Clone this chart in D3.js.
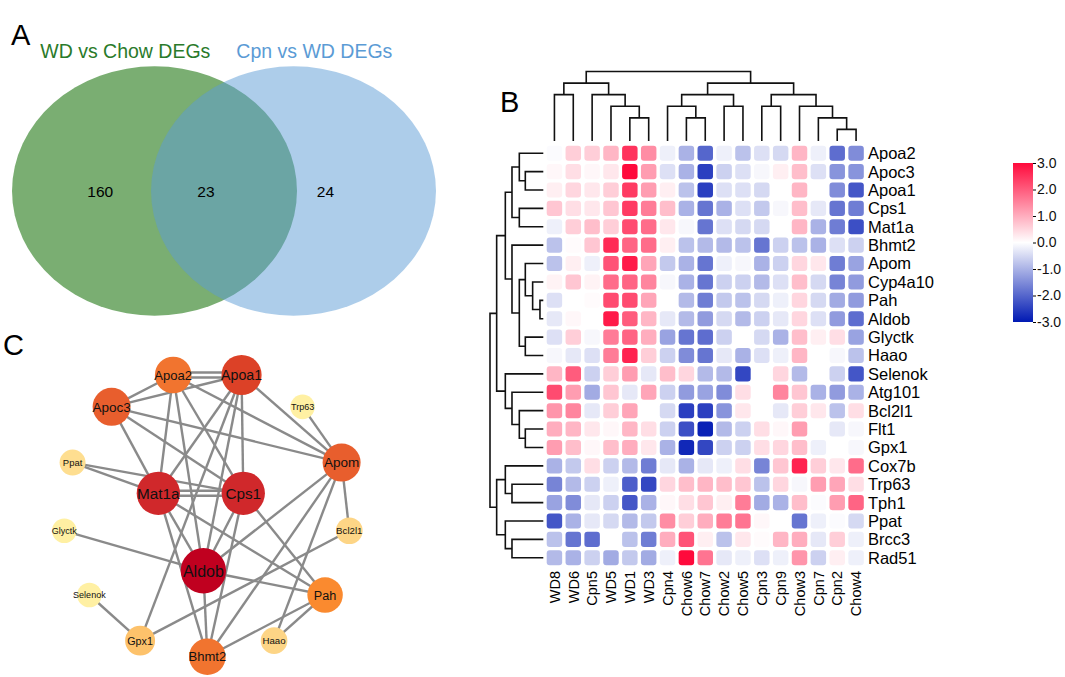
<!DOCTYPE html>
<html>
<head>
<meta charset="utf-8">
<script src="https://cdn.jsdelivr.net/npm/d3@7"></script>
<style>
  body { margin: 0; background: #fff; }
  text { font-family: "Liberation Sans", Arial, sans-serif; }
</style>
</head>
<body>
<svg id="fig" width="1065" height="677"></svg>
<script>
// ---------- data ----------
const vennSets = ["WD vs Chow DEGs", "Cpn vs WD DEGs"];
const vennCounts = [160, 23, 24];          // WD only, shared, Cpn only
const vennCountPos = [-0.39, 0.37, 1.23];  // layout units (circle centres at 0 and 1)

const cols = ["WD8","WD6","Cpn5","WD5","WD1","WD3","Cpn4","Chow6","Chow7","Chow2","Chow5","Cpn3","Cpn9","Chow3","Cpn7","Cpn2","Chow4"];
const rows = ["Apoa2","Apoc3","Apoa1","Cps1","Mat1a","Bhmt2","Apom","Cyp4a10","Pah","Aldob","Glyctk","Haao",
              "Selenok","Atg101","Bcl2l1","Flt1","Gpx1","Cox7b","Trp63","Tph1","Ppat","Brcc3","Rad51"];
const zvals = [
  [-0.05,0.6,0.6,0.9,2.5,1.4,-0.2,-1.0,-2.0,-0.2,-0.8,-0.4,-0.5,0.9,-0.2,-1.9,-1.5],
  [0.1,0.4,0.1,0.3,3.0,1.2,-0.4,-1.0,-2.5,-0.6,-0.4,-0.1,0.2,0.8,-0.4,-1.4,-1.4],
  [0.2,0.5,0.3,0.6,2.4,1.2,0.2,-0.8,-2.5,-0.4,-0.4,-0.5,0.0,0.9,0.0,-1.5,-2.2],
  [0.7,0.4,0.3,0.7,2.4,1.6,0.8,-1.0,-1.8,-1.0,-0.4,-0.7,-0.1,0.8,-0.3,-1.8,-1.7],
  [-0.2,0.6,0.8,0.6,2.2,1.8,0.3,-0.1,-1.8,-0.4,-0.5,-0.5,0.0,0.9,-1.0,-1.7,-2.3],
  [-0.8,0.05,0.7,2.6,1.9,1.8,0.2,-0.8,-0.9,-0.9,-0.8,-1.8,-0.6,-0.8,-1.0,-0.4,-0.6],
  [-0.8,0.2,-0.2,2.1,2.8,1.1,-0.7,-1.0,-1.8,-0.2,-0.1,-1.0,-0.6,0.5,0.3,-1.7,-1.2],
  [0.15,0.7,0.15,1.8,1.9,1.5,-0.1,-1.0,-1.8,-0.6,-0.6,-0.9,-0.4,0.8,-0.5,-1.6,-1.3],
  [-0.4,0.0,0.05,2.2,2.2,1.1,0.0,-0.9,-1.7,-0.7,-0.8,-0.5,-0.2,0.5,-0.5,-1.1,-1.3],
  [-0.3,0.1,0.0,2.8,2.0,0.9,-0.3,-0.9,-1.3,-0.5,-0.9,-0.6,-0.3,0.5,-0.4,-1.3,-1.9],
  [-0.4,0.6,-0.1,1.6,1.9,1.0,-1.2,-1.8,-1.9,-0.6,0.0,-0.5,-1.0,0.8,0.2,0.4,-1.2],
  [-0.1,-0.3,-0.4,1.6,2.7,0.6,-0.6,-1.5,-1.8,-0.3,-1.0,-0.4,-0.2,0.9,0.0,-0.1,-0.8],
  [0.9,2.0,-0.6,0.6,1.2,-0.3,0.8,0.5,-0.9,-0.9,-2.4,0.0,0.5,-0.9,0.0,-0.6,-2.2],
  [2.2,1.2,-1.1,0.7,-0.3,1.1,-0.6,-1.3,-1.2,-1.5,0.4,0.0,1.5,0.7,-1.0,-1.3,-1.0],
  [1.3,1.5,-0.3,0.6,1.1,0.0,-0.5,-2.5,-2.5,-1.4,0.3,0.0,-0.3,0.6,0.3,-0.8,0.4],
  [1.0,0.9,0.3,0.1,0.9,0.4,-0.6,-2.3,-2.9,-0.9,-0.6,0.4,0.1,1.2,0.0,-0.3,-0.1],
  [1.2,0.8,0.1,0.8,1.0,0.3,-1.0,-2.8,-2.4,-0.6,-0.6,0.4,0.5,0.8,-0.2,0.0,-0.1],
  [-1.0,-0.7,0.4,-0.6,-0.9,-1.7,-0.3,-1.0,-0.3,-0.2,0.4,-1.6,0.7,2.7,0.6,0.3,1.8],
  [-1.6,-0.9,-0.6,-0.2,-2.1,-2.4,0.5,0.8,0.9,0.8,0.7,-0.8,0.5,-0.1,1.2,1.1,0.4],
  [-1.2,-1.5,-0.3,-0.6,-2.2,-1.0,0.1,0.4,0.7,0.2,1.6,-1.1,-1.0,0.8,-0.05,1.2,1.9],
  [-2.2,-1.0,-0.3,-0.5,-0.9,-0.7,1.4,0.6,1.0,1.6,1.7,0.1,0.0,-1.8,-0.2,-0.05,-0.5],
  [-0.8,-1.8,-1.9,0.0,-0.8,-1.7,1.0,2.1,0.2,-0.8,0.3,0.05,0.9,1.0,-0.3,0.6,-0.2],
  [-0.9,-1.0,-0.6,-1.1,-0.7,-1.1,-0.2,3.0,1.7,-0.3,-0.2,-0.4,-0.2,1.3,-0.6,0.2,-0.2]
];
// dendrograms: [height, left, right]
const colTree = [6,
  [5, [4, "WD8", "WD6"], [4, "Cpn5", [3, "WD5", [2, "WD1", "WD3"]]]],
  [5, [4, [3, "Cpn4", [2, "Chow6", "Chow7"]], [3, "Chow2", "Chow5"]],
      [4, [3, "Cpn3", "Cpn9"], [3, "Chow3", [2, "Cpn7", [1, "Cpn2", "Chow4"]]]]]];
const rowTree = [8,
  [7,
    [5.7,
      [4.7, [3.6, "Apoa2", [2.7, "Apoc3", "Apoa1"]], [3.6, "Cps1", "Mat1a"]],
      [4.7, "Bhmt2", [3.6, [2.7, "Apom", [1.6, "Cyp4a10", [0.5, "Pah", "Aldob"]]], [2.7, "Glyctk", "Haao"]]]],
    [5.7, "Selenok", [4.7, "Atg101", [3.6, "Bcl2l1", [2.7, "Flt1", "Gpx1"]]]]],
  [7, [5.7, "Cox7b", [4.7, "Trp63", "Tph1"]], [5.7, "Ppat", [4.7, "Brcc3", "Rad51"]]]];
const legendTicks = [3, 2, 1, 0, -1, -2, -3];

const nodes = ["Apoa2","Apoa1","Apoc3","Trp63","Ppat","Apom","Mat1a","Cps1","Glyctk","Bcl2l1","Aldob","Selenok","Pah","Gpx1","Haao","Bhmt2"];
const nodeScore = [6.2, 7.7, 6.8, 1, 1.6, 6.8, 9.1, 9.1, 1, 1.9, 10, 1, 5.7, 3.3, 1.9, 6.2];
const nodeLayout = [[0.382,0],[0.622,0],[0.166,0.113],[0.836,0.113],[0.029,0.311],[0.973,0.311],
  [0.330,0.420],[0.628,0.420],[0,0.553],[1,0.553],[0.488,0.695],[0.088,0.781],[0.915,0.781],
  [0.266,0.943],[0.736,0.943],[0.502,1]];
const edges = [
  ["Apoa2","Apoa1",2],["Apoa2","Apoc3",1],["Apoc3","Apoa1",1],["Apoc3","Apom",1],["Apoc3","Mat1a",1],
  ["Apoc3","Cps1",1],["Apoa2","Mat1a",1],["Apoa2","Aldob",1],["Apoa2","Cps1",1],["Apoa2","Apom",1],
  ["Apoa1","Mat1a",1],["Apoa1","Cps1",1],["Apoa1","Aldob",1],["Apoa1","Apom",1],["Apoa1","Gpx1",1],
  ["Trp63","Apom",1],["Ppat","Mat1a",1],["Ppat","Cps1",1],["Mat1a","Cps1",2],["Mat1a","Aldob",1],
  ["Mat1a","Bhmt2",1],["Mat1a","Pah",1],["Cps1","Aldob",1],["Cps1","Bhmt2",1],["Cps1","Pah",1],
  ["Glyctk","Aldob",1],["Aldob","Pah",1],["Aldob","Bhmt2",1],["Aldob","Apom",1],["Apom","Bcl2l1",1],
  ["Apom","Haao",1],["Apom","Bhmt2",1],["Bcl2l1","Gpx1",1],["Selenok","Gpx1",1],["Pah","Bhmt2",1],
  ["Pah","Haao",1]
];

// ---------- drawing ----------
const svg = d3.select("#fig");
const font = '"Liberation Sans", Arial, sans-serif';

function panelLabel(t, x, y) {
  svg.append("text").attr("x", x).attr("y", y).attr("font-size", 29).text(t);
}
panelLabel("A", 11, 45);
panelLabel("B", 500, 112);
panelLabel("C", 3, 355);

// ---- A: Venn ----
const vx = d3.scaleLinear().domain([0, 1]).range([154.5, 293.5]);
const vcy = 191, vr = 1.025;
const rx = vx(vr) - vx(0), ry = rx * 0.875;
const vennG = svg.append("g");
vennG.append("ellipse").attr("cx", vx(0)).attr("cy", vcy).attr("rx", rx).attr("ry", ry)
  .attr("fill", "rgb(122,174,114)");
vennG.append("ellipse").attr("cx", vx(1)).attr("cy", vcy).attr("rx", rx).attr("ry", ry)
  .attr("fill", "rgb(91,155,213)").attr("fill-opacity", 0.5);
vennG.selectAll(".vc").data(vennCounts).enter().append("text")
  .attr("x", (d, i) => vx(vennCountPos[i])).attr("y", vcy + 6)
  .attr("text-anchor", "middle").attr("font-size", 15.5).text(d => d);
vennG.selectAll(".vt").data(vennSets).enter().append("text")
  .attr("x", (d, i) => i === 0 ? vx(-0.21) : vx(1.15)).attr("y", 58)
  .attr("text-anchor", "middle").attr("font-size", 19.5)
  .attr("fill", (d, i) => i === 0 ? "#2a7a2a" : "#5b9bd5").text(d => d);

// ---- B: heatmap ----
const xb = d3.scaleBand().domain(cols).range([545, 865.5]).paddingInner(0.18).paddingOuter(0.09);
const yb = d3.scaleBand().domain(rows).range([144, 567]).paddingInner(0.18).paddingOuter(0.09);
const color = d3.scaleLinear().domain([-3, 0, 3]).range(["#0019b3", "#ffffff", "#ff0a3c"]).clamp(true);

const cells = [];
rows.forEach((r, i) => cols.forEach((c, j) => cells.push({ r, c, v: zvals[i][j] })));
svg.append("g").selectAll("rect").data(cells).enter().append("rect")
  .attr("x", d => xb(d.c)).attr("y", d => yb(d.r))
  .attr("width", xb.bandwidth()).attr("height", yb.bandwidth())
  .attr("rx", 3).attr("fill", d => color(d.v));

svg.append("g").selectAll("text").data(rows).enter().append("text")
  .attr("x", 868).attr("y", d => yb(d) + yb.bandwidth() / 2)
  .attr("dy", "0.36em").attr("font-size", 16.5).text(d => d);

svg.append("g").selectAll("text").data(cols).enter().append("text")
  .attr("transform", d => `translate(${xb(d) + xb.bandwidth() / 2},571) rotate(-90)`)
  .attr("dy", "0.36em").attr("text-anchor", "end").attr("font-size", 14.5).text(d => d);

// dendrograms
function dendro(tree, leafPos, hPos, vertical) {
  const paths = [];
  function walk(n) {
    if (typeof n === "string") return { p: leafPos(n), h: 0 };
    const a = walk(n[1]), b = walk(n[2]);
    const h = hPos(n[0]);
    if (vertical) {
      paths.push(`M${a.p},${hPos(a.h)}V${h}H${b.p}V${hPos(b.h)}`);
    } else {
      paths.push(`M${hPos(a.h)},${a.p}H${h}V${b.p}H${hPos(b.h)}`);
    }
    return { p: (a.p + b.p) / 2, h: n[0] };
  }
  walk(tree);
  svg.append("g").selectAll("path").data(paths).enter().append("path")
    .attr("d", d => d).attr("fill", "none").attr("stroke", "#111").attr("stroke-width", 1.6);
}
const colH = d3.scaleLinear().domain([0, 6]).range([141, 71.5]);
const rowH = d3.scaleLinear().domain([0, 8]).range([543.3, 490]);
dendro(colTree, c => xb(c) + xb.bandwidth() / 2, colH, true);
dendro(rowTree, r => yb(r) + yb.bandwidth() / 2, rowH, false);

// colour bar
const ly = d3.scaleLinear().domain([3, -3]).range([163, 322]);
const grad = svg.append("defs").append("linearGradient").attr("id", "cbar")
  .attr("x1", 0).attr("y1", 0).attr("x2", 0).attr("y2", 1);
d3.range(0, 1.0001, 0.1).forEach(t => {
  grad.append("stop").attr("offset", t).attr("stop-color", color(3 - 6 * t));
});
svg.append("rect").attr("x", 1013).attr("y", ly(3)).attr("width", 20)
  .attr("height", ly(-3) - ly(3)).attr("fill", "url(#cbar)");
const lax = svg.append("g").attr("transform", "translate(1033,0)")
  .call(d3.axisRight(ly).tickValues(legendTicks).tickSize(3).tickPadding(1).tickFormat(d => d.toFixed(1)));
lax.select(".domain").remove();
lax.selectAll("text").attr("font-size", 14).attr("font-family", font).attr("fill", "#111");

// ---- C: network ----
const nx = d3.scaleLinear().domain([0, 1]).range([64.3, 349.3]);
const ny = d3.scaleLinear().domain([0, 1]).range([375, 656.7]);
const rScale = d3.scaleLinear().domain([1, 10]).range([12.3, 22.7]);
const fScale = d3.scaleLinear().domain([1, 10]).range([9, 16]);
const nColor = d3.scaleLinear()
  .domain([1, 2, 3.3, 5.7, 6.5, 7.7, 9.1, 10])
  .range(["#fff0a3", "#fdd283", "#fdc26b", "#fa8a2f", "#ec672f", "#dc4127", "#d0282b", "#c0001f"]);

const nodeData = nodes.map((n, i) => ({ n, s: nodeScore[i], x: nx(nodeLayout[i][0]), y: ny(nodeLayout[i][1]) }));
const byName = Object.fromEntries(nodeData.map(d => [d.n, d]));

const lines = [];
edges.forEach(([a, b, k]) => {
  const A = byName[a], B = byName[b];
  const dx = B.x - A.x, dy = B.y - A.y, L = Math.hypot(dx, dy);
  const ox = -dy / L, oy = dx / L;
  for (let i = 0; i < k; i++) {
    const off = k === 1 ? 0 : (i - (k - 1) / 2) * 5;
    lines.push({ x1: A.x + ox * off, y1: A.y + oy * off, x2: B.x + ox * off, y2: B.y + oy * off });
  }
});
svg.append("g").selectAll("line").data(lines).enter().append("line")
  .attr("x1", d => d.x1).attr("y1", d => d.y1).attr("x2", d => d.x2).attr("y2", d => d.y2)
  .attr("stroke", "#8a8a8a").attr("stroke-width", 2.4);

const ng = svg.append("g").selectAll("g").data(nodeData).enter().append("g")
  .attr("transform", d => `translate(${d.x},${d.y})`);
ng.append("circle").attr("r", d => rScale(d.s)).attr("fill", d => nColor(d.s));
ng.append("text").attr("text-anchor", "middle").attr("dy", "0.36em")
  .attr("font-size", d => fScale(d.s)).attr("fill", "#111").text(d => d.n);
</script>
</body>
</html>
